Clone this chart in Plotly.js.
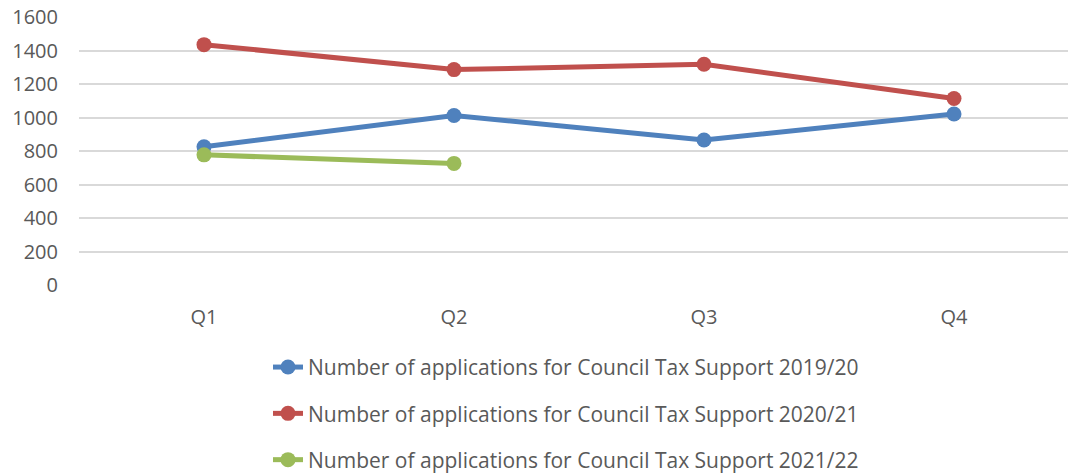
<!DOCTYPE html>
<html>
<head>
<meta charset="utf-8">
<script src="https://cdn.plot.ly/plotly-3.0.1.min.js"></script>
<style>
html,body{margin:0;padding:0;overflow:hidden;background:#fff;}
#chart{width:1080px;height:490px;}
</style>
</head>
<body>
<div id="chart"></div>
<script>
const quarters = ["Q1", "Q2", "Q3", "Q4"];
const apps2019 = [825, 1012, 866, 1021];
const apps2020 = [1435, 1286, 1318, 1113];
const apps2021 = [777, 726];
const seriesNames = [
  "Number of applications for Council Tax Support 2019/20",
  "Number of applications for Council Tax Support 2020/21",
  "Number of applications for Council Tax Support 2021/22"
];
const colors = ["#4F81BD", "#C0504D", "#9BBB59"];
const yTicks = [0, 200, 400, 600, 800, 1000, 1200, 1400, 1600];

const allSeries = [apps2019, apps2020, apps2021];
const traces = allSeries.map((vals, i) => ({
  type: "scatter",
  mode: "lines+markers",
  x: quarters.slice(0, vals.length),
  y: vals,
  name: seriesNames[i],
  legendgroup: "g" + i,
  line: {color: colors[i], width: 5},
  marker: {color: colors[i], size: 15},
  cliponaxis: false
}));

const layout = {
  width: 1080,
  height: 490,
  margin: {l: 79, r: 1, t: 17, b: 205},
  paper_bgcolor: "#fff",
  plot_bgcolor: "#fff",
  font: {family: "'Open Sans', sans-serif", color: "#595959", size: 20},
  xaxis: {
    type: "category",
    range: [-0.5, 3.5],
    showgrid: false,
    zeroline: false,
    showline: false,
    ticks: "",
    ticklabelstandoff: 18,
    tickfont: {size: 20, color: "#595959"},
    fixedrange: true,
    automargin: false
  },
  yaxis: {
    range: [0, 1600],
    tickvals: yTicks,
    ticktext: yTicks.map(String),
    showgrid: true,
    gridcolor: "#D9D9D9",
    gridwidth: 2,
    zeroline: false,
    showline: false,
    ticks: "",
    ticklabelstandoff: 20,
    tickfont: {size: 20, color: "#595959"},
    fixedrange: true,
    automargin: false
  },
  showlegend: true,
  legend: {
    orientation: "v",
    x: 0.189,
    xanchor: "left",
    y: -0.231,
    yanchor: "top",
    tracegroupgap: 16,
    font: {size: 21, color: "#595959"},
    bgcolor: "rgba(0,0,0,0)"
  }
};

Plotly.newPlot("chart", traces, layout, {displayModeBar: false, staticPlot: true});
</script>
</body>
</html>
